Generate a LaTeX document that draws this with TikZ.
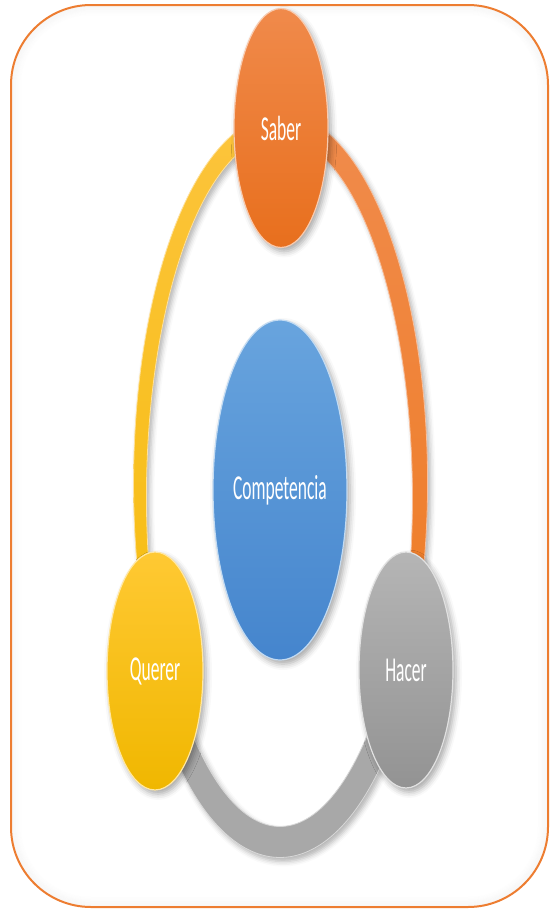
\documentclass[tikz,border=0pt]{standalone}
\usepackage{fontspec}
\usepackage{graphicx}
\setmainfont{Carlito}
\usetikzlibrary{shapes.geometric,shadows.blur}
\definecolor{frameC}{HTML}{ED7D31}
\definecolor{saberT}{HTML}{F08A4B}
\definecolor{saberB}{HTML}{E86F1D}
\definecolor{compT}{HTML}{68A4DE}
\definecolor{compB}{HTML}{4585CD}
\definecolor{quererT}{HTML}{FFC933}
\definecolor{quererB}{HTML}{F0B700}
\definecolor{hacerT}{HTML}{B5B5B5}
\definecolor{hacerB}{HTML}{939393}
\definecolor{bandYT}{HTML}{FCC43C}
\definecolor{bandYB}{HTML}{F6BD0E}
\definecolor{bandOT}{HTML}{F08B4C}
\definecolor{bandOB}{HTML}{EF7C24}
\definecolor{bandG}{HTML}{A8A8A8}
\tikzset{
  frame/.style={draw=frameC, line width=2pt, rounded corners=80pt},
  bubble/.style={ellipse, inner sep=0pt, text=white,
    font=\fontsize{35}{40}\selectfont, line width=1.2pt,
    blur shadow={shadow xshift=3pt, shadow yshift=-4pt, shadow blur radius=6pt, shadow opacity=35}},
  band/.style={line width=0.8pt,
    blur shadow={shadow xshift=3pt, shadow yshift=-4pt, shadow blur radius=5pt, shadow opacity=30}}
}
\newcommand{\cond}[1]{\scalebox{0.5}[1]{#1}}
\begin{document}
\begin{tikzpicture}[x=1pt,y=-1pt]
\useasboundingbox (0,0) rectangle (550,910);
% inner soft glow of the frame
\foreach \i in {1,...,10}
  \draw[black, opacity={0.035*(1-\i/11)}, line width=1pt, rounded corners={(80-\i)*1pt}]
    (11+\i,5+\i) rectangle (548-\i,907-\i);
\draw[frame] (11,5) rectangle (548,907);
% yellow band (Querer -> Saber)
\path[band, top color=bandYT, bottom color=bandYB, draw=bandYT!50!white]
  plot[domain=92:212, samples=80, variable=\t]
    ({280+(140+(21-0.09*(\t-90))/2)*cos(\t)}, {490-(365+(21-0.09*(\t-90))/2)*sin(\t)})
  -- plot[domain=212:92, samples=80, variable=\t]
    ({280+(140-(21-0.09*(\t-90))/2)*cos(\t)}, {490-(365-(21-0.09*(\t-90))/2)*sin(\t)})
  -- cycle;
% orange band (Saber -> Hacer)
\path[band, top color=bandOT, bottom color=bandOB, draw=bandOT!55!white]
  plot[domain=88:-32, samples=80, variable=\t]
    ({280+(140+(25-0.11*(90-\t))/2)*cos(\t)}, {490-(365+(25-0.11*(90-\t))/2)*sin(\t)})
  -- plot[domain=-32:88, samples=80, variable=\t]
    ({280+(140-(25-0.11*(90-\t))/2)*cos(\t)}, {490-(365-(25-0.11*(90-\t))/2)*sin(\t)})
  -- cycle;
% grey band (Hacer -> Querer)
\path[band, fill=bandG, draw=bandG!45!white]
  plot[domain=205:335, samples=80, variable=\t]
    ({280+(140+(31-9*((\t-270)/65)^2)/2)*cos(\t)}, {490-(352+(31-9*((\t-270)/65)^2)/2)*sin(\t)})
  -- plot[domain=335:205, samples=80, variable=\t]
    ({280+(140-(31-9*((\t-270)/65)^2)/2)*cos(\t)}, {490-(352-(31-9*((\t-270)/65)^2)/2)*sin(\t)})
  -- cycle;
% nodes
\node[bubble, minimum width=94pt, minimum height=239pt, top color=saberT, bottom color=saberB, draw=saberT!45!white]
  (saber) at (281,128) {\cond{Saber}};
\node[bubble, minimum width=134pt, minimum height=340pt, top color=compT, bottom color=compB, draw=compT!40!white]
  (comp) at (280,490) {\cond{Competencia}};
\node[bubble, minimum width=96pt, minimum height=238pt, top color=quererT, bottom color=quererB, draw=quererT!45!white]
  (querer) at (155,671) {\cond{Querer}};
\node[bubble, minimum width=94pt, minimum height=236pt, top color=hacerT, bottom color=hacerB, draw=hacerT!40!white]
  (hacer) at (406,670) {\cond{Hacer}};
\end{tikzpicture}
\end{document}
